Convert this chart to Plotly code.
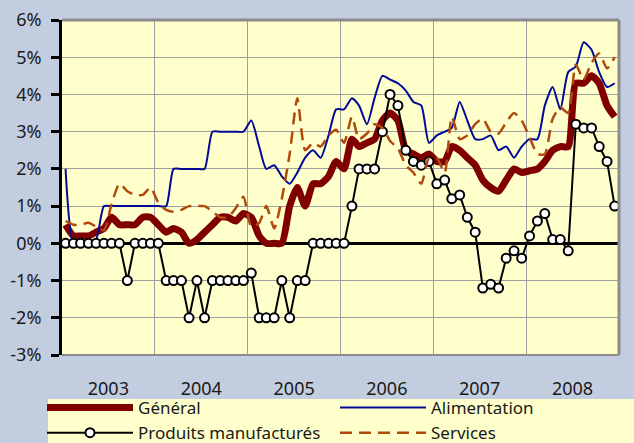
import pandas as pd
import plotly.graph_objects as go

# ---------------- data ----------------
months = pd.date_range("2003-01-01", periods=72, freq="MS") + pd.Timedelta(days=14)

general = [0.5, 0.2, 0.2, 0.2, 0.3, 0.4, 0.7, 0.5, 0.5, 0.5, 0.7, 0.7,
           0.5, 0.3, 0.4, 0.3, 0.0, 0.1, 0.3, 0.5, 0.7, 0.7, 0.6, 0.8,
           0.7, 0.2, 0.0, 0.0, 0.0, 1.0, 1.5, 1.0, 1.6, 1.6, 1.8, 2.2,
           2.0, 2.8, 2.6, 2.7, 2.8, 3.3, 3.5, 3.3, 2.5, 2.4, 2.3, 2.4,
           2.2, 2.2, 2.6, 2.5, 2.3, 2.1, 1.7, 1.5, 1.4, 1.7, 2.0, 1.9,
           1.95, 2.0, 2.2, 2.5, 2.6, 2.6, 4.3, 4.3, 4.5, 4.3, 3.7, 3.4]

alimentation = [2.0, 0.0, 0.0, 0.0, 0.1, 1.0, 1.0, 1.0, 1.0, 1.0, 1.0, 1.0,
                1.0, 1.0, 2.0, 2.0, 2.0, 2.0, 2.0, 3.0, 3.0, 3.0, 3.0, 3.0,
                3.3, 2.6, 2.0, 2.1, 1.8, 1.6, 1.9, 2.3, 2.5, 2.3, 2.9, 3.6,
                3.6, 3.9, 3.7, 3.2, 3.9, 4.5, 4.4, 4.3, 4.1, 3.8, 3.7, 2.7,
                2.9, 3.0, 3.1, 3.8, 3.3, 2.8, 2.8, 2.9, 2.5, 2.6, 2.3, 2.6,
                2.8, 2.8, 3.7, 4.2, 3.6, 4.6, 4.75, 5.4, 5.2, 4.6, 4.2, 4.3]

produits = [0, 0, 0, 0, 0, 0, 0, 0, -1, 0, 0, 0,
            0, -1, -1, -1, -2, -1, -2, -1, -1, -1, -1, -1,
            -0.8, -2, -2, -2, -1, -2, -1, -1, 0, 0, 0, 0,
            0, 1.0, 2.0, 2.0, 2.0, 3.0, 4.0, 3.7, 2.5, 2.2, 2.1, 2.2,
            1.6, 1.7, 1.2, 1.3, 0.7, 0.3, -1.2, -1.1, -1.2, -0.4, -0.2, -0.4,
            0.2, 0.6, 0.8, 0.1, 0.1, -0.2, 3.2, 3.1, 3.1, 2.6, 2.2, 1.0]

services = [0.6, 0.5, 0.5, 0.55, 0.45, 0.35, 1.05, 1.6, 1.4, 1.3, 1.3, 1.5,
            1.1, 0.9, 0.85, 0.9, 1.0, 1.0, 1.0, 0.85, 0.7, 0.7, 0.95, 1.25,
            0.45, 0.55, 1.0, 0.4, 1.2, 2.4, 3.9, 2.5, 2.7, 2.6, 2.9, 3.05,
            2.7, 3.4, 2.8, 2.95, 3.2, 3.1, 2.75, 2.55, 2.1, 1.9, 1.6, 2.3,
            2.3, 1.9, 3.4, 2.8, 2.9, 3.2, 3.35, 3.0, 2.95, 3.25, 3.5, 3.3,
            2.85, 2.4, 2.4, 3.35, 3.65, 3.5, 4.8, 4.4, 4.85, 5.1, 4.7, 5.0]

y_tickvals = [-3, -2, -1, 0, 1, 2, 3, 4, 5, 6]
y_ticktext = ["-3%", "-2%", "-1%", "0%", "1%", "2%", "3%", "4%", "5%", "6%"]

# ---------------- styling ----------------
W, H = 634, 443
ML, MR, MT, MB = 62, 15, 20, 88
PW, PH = W - ML - MR, H - MT - MB

def px_x(p):
    return (p - ML) / PW

def px_y(p):
    return (H - MB - p) / PH

FONT = "Noto Sans"
LEG_FONT = dict(size=17, family=FONT, color="#1a1a1a")
fig = go.Figure()
fig.add_trace(go.Scatter(
    x=months, y=general, name="Général", mode="lines", legend="legend",
    line=dict(color="#800000", width=7, shape="spline", smoothing=0.6)))
fig.add_trace(go.Scatter(
    x=months, y=alimentation, name="Alimentation", mode="lines", legend="legend2",
    line=dict(color="#000A96", width=2, shape="spline", smoothing=0.6)))
fig.add_trace(go.Scatter(
    x=months, y=produits, name="Produits manufacturés", mode="lines+markers",
    legend="legend",
    line=dict(color="black", width=2),
    marker=dict(symbol="circle", size=9, color="white",
                line=dict(color="black", width=2))))
fig.add_trace(go.Scatter(
    x=months, y=services, name="Services", mode="lines", legend="legend2",
    line=dict(color="#B04A0C", width=2.5, dash="12px,7px",
              shape="spline", smoothing=0.6)))

xr = ["2003-01-01", "2009-01-01"]
leg_common = dict(orientation="v", xref="paper", yref="paper",
                  y=px_y(390), xanchor="left", yanchor="top",
                  bgcolor="rgba(0,0,0,0)", font=LEG_FONT,
                  itemwidth=86, tracegroupgap=0, traceorder="normal")
fig.update_layout(
    width=W, height=H,
    margin=dict(l=ML, r=MR, t=MT, b=MB, autoexpand=False),
    paper_bgcolor="#C3CDE0",
    plot_bgcolor="#FFFFCC",
    font=dict(family=FONT, size=18, color="#1a1a1a"),
    xaxis=dict(type="date", range=xr, dtick="M12", tick0="2003-01-01",
               tickformat="%Y", ticklabelmode="period",
               showgrid=True, gridcolor="#A0A0A0", gridwidth=1,
               zeroline=False, showline=False, ticks="",
               ticklabelstandoff=21, fixedrange=True),
    xaxis2=dict(type="date", range=xr, dtick="M12", tick0="2003-01-01",
                overlaying="x", anchor="free", position=1/3,
                ticks="outside", ticklen=7, tickwidth=2, tickcolor="black",
                showticklabels=False, showgrid=False, zeroline=False,
                showline=False),
    yaxis=dict(range=[-3, 6], tickvals=y_tickvals, ticktext=y_ticktext,
               showgrid=True, gridcolor="#A0A0A0", gridwidth=1,
               zeroline=True, zerolinecolor="black", zerolinewidth=2.5,
               showline=True, linecolor="black", linewidth=3,
               ticks="outside", ticklen=8, tickwidth=2.5, tickcolor="black",
               ticklabelstandoff=6),
    showlegend=True,
    legend=dict(leg_common, x=px_x(139 - 97)),
    legend2=dict(leg_common, x=px_x(432 - 97)),
    shapes=[
        dict(type="rect", xref="paper", yref="paper",
             x0=px_x(48), x1=px_x(W), y0=px_y(H), y1=px_y(399),
             fillcolor="#FFFFCC", line=dict(width=0), layer="below"),
        dict(type="line", xref="paper", yref="paper", x0=0, x1=1, y0=1, y1=1,
             line=dict(color="#8C8C8C", width=3), layer="above"),
        dict(type="line", xref="paper", yref="paper", x0=1, x1=1, y0=0, y1=1,
             line=dict(color="#8C8C8C", width=3), layer="above"),
        dict(type="line", xref="paper", yref="paper", x0=0, x1=1, y0=0, y1=0,
             line=dict(color="#8C8C8C", width=2), layer="above"),
    ],
)

fig.write_html("out.html",
               config={"displayModeBar": False},
               post_script="document.body.style.margin='0px';"
                           "document.body.style.background='#C3CDE0';")
